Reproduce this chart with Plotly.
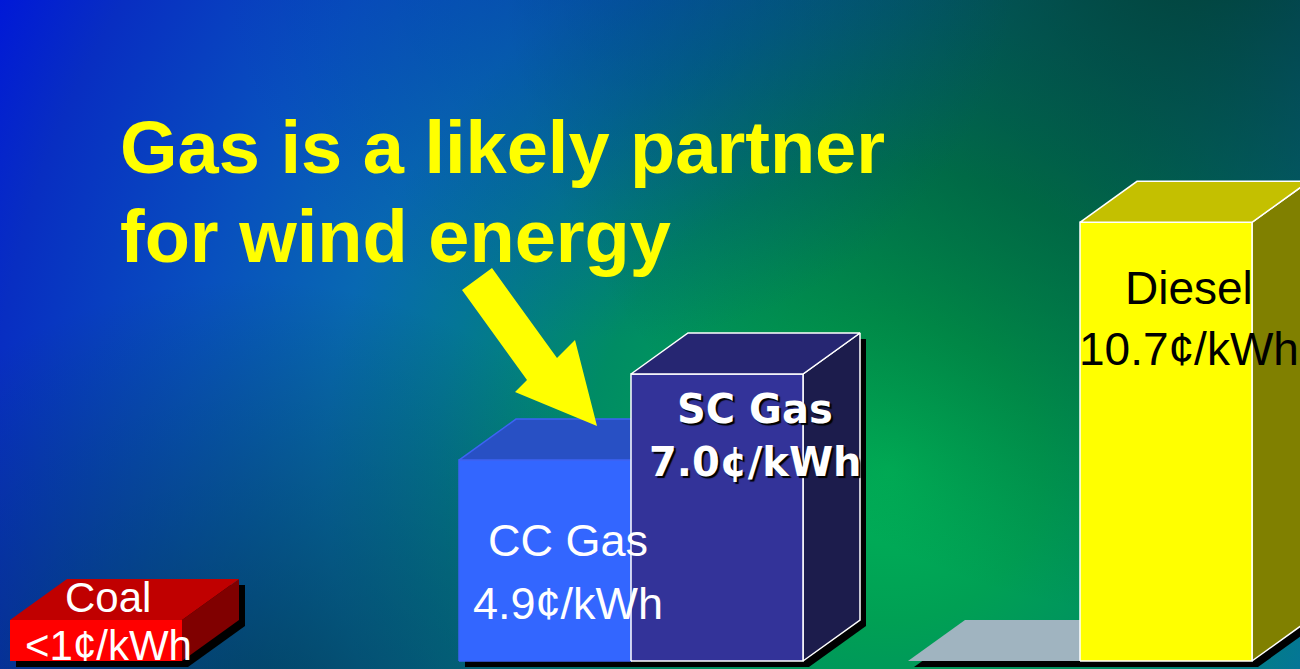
import base64
import plotly.graph_objects as go

# ---- data -------------------------------------------------------------
fuels = ["Coal", "CC Gas", "SC Gas", "", "Diesel"]
costs = [1.0, 4.9, 7.0, 0.0, 10.7]          # ¢/kWh
cost_text = ["<1¢/kWh", "4.9¢/kWh", "7.0¢/kWh", "", "10.7¢/kWh"]
group = [0, 1, 1, 2, 2]                     # category group of each bar
slot = [0, 0, 1, 0, 1]                      # position of the bar inside its group

title_lines = ["Gas is a likely partner", "for wind energy"]

# ---- geometry / style ---------------------------------------------------
W, H = 1300, 669
BASE_PX = 661            # pixel row of the floor
PX_PER_UNIT = 41.0       # pixels per ¢/kWh
X0, BAR_W, GROUP_STEP = 10, 172, 449
DX = 57                  # horizontal depth of the 3-D boxes (px)
DEPTH = 41 / PX_PER_UNIT # vertical depth of the boxes (value units)
SHADOW = 6               # drop shadow offset (px)

front_colors = ["#ff0000", "#3366ff", "#333399", "#a0b4c0", "#ffff00"]
top_colors = ["#c00000", "#2850c4", "#262672", "#a0b4c0", "#c4c000"]
side_colors = ["#800000", "#1c3a99", "#1c1c4c", "#8a9aa6", "#808000"]
edge_colors = [None, "#3d63f5", "white", None, "white"]

label_font = [
    dict(family="Liberation Sans, Arial", size=42, color="white"),
    dict(family="Liberation Sans, Arial", size=45, color="white"),
    dict(family="DejaVu Sans", size=40, color="white", weight="bold",
         shadow="2px 2px 1px #000000"),
    None,
    dict(family="Liberation Sans, Arial", size=46, color="black"),
]
# (x centre, row of name, row of price) in pixels
label_pos = [(108, 597, 645), (568, 540, 603), (755, 409, 462), None, (1189, 288, 349)]


def vy(pixel_row):
    """pixel row -> value units on the y axis"""
    return (BASE_PX - pixel_row) / PX_PER_UNIT


def poly(fig, pts, fill, line=None, width=1.5):
    xs = [p[0] for p in pts] + [pts[0][0]]
    ys = [p[1] for p in pts] + [pts[0][1]]
    fig.add_trace(go.Scatter(
        x=xs, y=ys, mode="lines", fill="toself", fillcolor=fill,
        line=dict(color=line if line else fill, width=width if line else 0),
        hoverinfo="skip", showlegend=False))


def box(i):
    xl = X0 + group[i] * GROUP_STEP + slot[i] * BAR_W
    xr = xl + BAR_W
    v = costs[i]
    front = [(xl, 0), (xl, v), (xr, v), (xr, 0)]
    top = [(xl, v), (xl + DX, v + DEPTH), (xr + DX, v + DEPTH), (xr, v)]
    side = [(xr, 0), (xr, v), (xr + DX, v + DEPTH), (xr + DX, DEPTH)]
    outline = [(xl, 0), (xl, v), (xl + DX, v + DEPTH), (xr + DX, v + DEPTH),
               (xr + DX, DEPTH), (xr, 0)]
    return front, top, side, outline


fig = go.Figure()

# drop shadows first
for i in range(len(costs)):
    outline = box(i)[3]
    dy = SHADOW / PX_PER_UNIT
    poly(fig, [(x + SHADOW, y - dy) for x, y in outline], "#000000")

# the boxes, left to right
for i in range(len(costs)):
    front, top, side, _ = box(i)
    if costs[i] > 0:
        poly(fig, side, side_colors[i], edge_colors[i])
        poly(fig, front, front_colors[i], edge_colors[i])
    poly(fig, top, top_colors[i], edge_colors[i])

# value labels
annotations = []
for i in range(len(costs)):
    if label_pos[i] is None:
        continue
    cx, r1, r2 = label_pos[i]
    for txt, row in ((fuels[i], r1), (cost_text[i], r2)):
        annotations.append(dict(
            x=cx, y=vy(row), xref="x", yref="y", text=txt, showarrow=False,
            xanchor="center", yanchor="middle", font=label_font[i]))

# headline
for txt, row in zip(title_lines, (147, 236)):
    annotations.append(dict(
        x=118, y=vy(row), xref="x", yref="y", text=txt, showarrow=False,
        xanchor="left", yanchor="middle",
        font=dict(family="Liberation Sans, Arial", size=74, color="#ffff00",
                  weight="bold")))

# pointer arrow from the headline to the CC gas box
arrow_px = [(462, 290), (527, 380), (515, 392), (597, 426),
            (575, 340), (557, 358), (492, 268)]
arrow_path = "M " + " L ".join(f"{x},{vy(y)}" for x, y in arrow_px) + " Z"
shapes = [dict(type="path", path=arrow_path, xref="x", yref="y",
               fillcolor="#ffff00", line=dict(width=0), layer="above")]

# slide background
bg_svg = f"""<svg xmlns="http://www.w3.org/2000/svg" width="{W}" height="{H}" viewBox="0 0 {W} {H}" preserveAspectRatio="none">
<defs>
<radialGradient id="g" gradientUnits="userSpaceOnUse" cx="890" cy="470" r="1010">
<stop offset="0" stop-color="#00b258"/>
<stop offset="0.15" stop-color="#00a054"/>
<stop offset="0.3" stop-color="#008c64"/>
<stop offset="0.45" stop-color="#047696"/>
<stop offset="0.56" stop-color="#0868b2"/>
<stop offset="0.7" stop-color="#0850be"/>
<stop offset="0.89" stop-color="#082ec2"/>
<stop offset="1" stop-color="#0018d8"/>
</radialGradient>
<radialGradient id="tr" gradientUnits="userSpaceOnUse" cx="1200" cy="-80" r="700">
<stop offset="0" stop-color="#003c1e" stop-opacity="0.85"/>
<stop offset="1" stop-color="#003c1e" stop-opacity="0"/>
</radialGradient>
<radialGradient id="tm" gradientUnits="userSpaceOnUse" cx="620" cy="-60" r="400">
<stop offset="0" stop-color="#0030a0" stop-opacity="0.45"/>
<stop offset="1" stop-color="#0030a0" stop-opacity="0"/>
</radialGradient>
<radialGradient id="bl" gradientUnits="userSpaceOnUse" cx="250" cy="760" r="480">
<stop offset="0" stop-color="#003c3c" stop-opacity="0.75"/>
<stop offset="1" stop-color="#003c3c" stop-opacity="0"/>
</radialGradient>
</defs>
<rect width="{W}" height="{H}" fill="url(#g)"/>
<rect width="{W}" height="{H}" fill="url(#tr)"/>
<rect width="{W}" height="{H}" fill="url(#tm)"/>
<rect width="{W}" height="{H}" fill="url(#bl)"/>
</svg>"""
bg_uri = "data:image/svg+xml;base64," + base64.b64encode(bg_svg.encode()).decode()

fig.update_layout(
    width=W, height=H, margin=dict(l=0, r=0, t=0, b=0),
    paper_bgcolor="#0a40a0", plot_bgcolor="rgba(0,0,0,0)",
    xaxis=dict(range=[0, W], visible=False, fixedrange=True),
    yaxis=dict(range=[vy(H), vy(0)], visible=False, fixedrange=True),
    showlegend=False, annotations=annotations, shapes=shapes,
    images=[dict(source=bg_uri, xref="paper", yref="paper", x=0, y=1,
                 sizex=1, sizey=1, xanchor="left", yanchor="top",
                 sizing="stretch", layer="below")],
)

fig.write_html("out.html", config=dict(displayModeBar=False))
